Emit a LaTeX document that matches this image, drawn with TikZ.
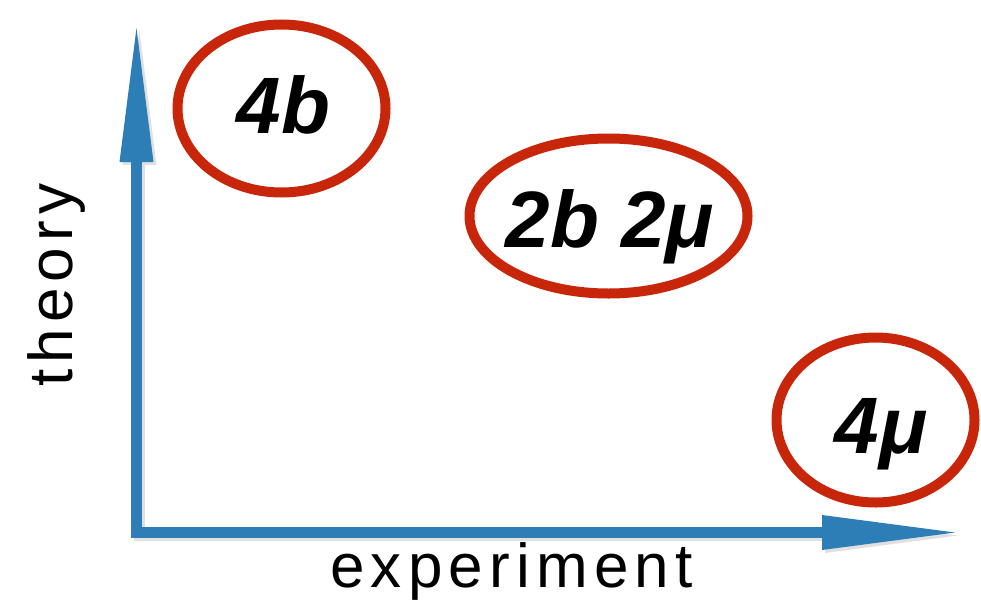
\documentclass[tikz,border=0pt]{standalone}
\usepackage{fontspec}
\setmainfont{Liberation Sans}
\newfontfamily\axisfont[LetterSpace=10]{Liberation Sans}
\usetikzlibrary{arrows.meta,shapes.geometric}
\definecolor{axisblue}{RGB}{45,125,182}
\definecolor{ringred}{RGB}{200,38,10}
\tikzset{
  axis/.style={draw=axisblue, line width=10.5pt, line join=miter,
    {Triangle[length=134pt,width=34pt,line width=0pt]}-{Triangle[length=133pt,width=35pt,line width=0pt]}},
  axisshadow/.style={draw=black, opacity=0.12, line width=10.5pt, line join=miter,
    {Triangle[length=134pt,width=34pt,line width=0pt]}-{Triangle[length=133pt,width=35pt,line width=0pt]}},
  ring/.style={ellipse, draw=ringred, line width=10pt, inner sep=0pt},
  ringlabel/.style={anchor=base, font=\fontsize{80}{80}\selectfont\bfseries\itshape, inner sep=0pt},
  axislabel/.style={anchor=base west, font=\fontsize{62}{62}\selectfont\axisfont, inner sep=0pt, text=black}
}
\begin{document}
\begin{tikzpicture}[x=1pt,y=-1pt]
\useasboundingbox (0,0) rectangle (981,613);
% axes
\coordinate (O) at (136.5,532.5);
\coordinate (ytip) at (136.5,28);
\coordinate (xtip) at (955,532.5);
\coordinate (Os) at (139.5,535.5);
\coordinate (ytips) at (139.5,31);
\coordinate (xtips) at (958,535.5);
\draw[axisshadow] (ytips) -- (Os) -- (xtips);
\draw[axis] (ytip) -- (O) -- (xtip);
% rings
\node[ring, minimum width=208pt, minimum height=168pt] (r1) at (281.5,108.5) {};
\node[ring, minimum width=278pt, minimum height=155pt] (r2) at (608.5,216) {};
\node[ring, minimum width=198pt, minimum height=165pt] (r3) at (875.5,420) {};
\node[ringlabel] (t1) at (283.5,133) {4b};
\node[ringlabel] (t2) at (610,247) {2b 2μ};
\node[ringlabel] (t3) at (881,453) {4μ};
% axis labels
\node[axislabel] (xl) at (330,587) {experiment};
\node[axislabel, rotate=90] (yl) at (72,387) {theory};
\end{tikzpicture}
\end{document}
